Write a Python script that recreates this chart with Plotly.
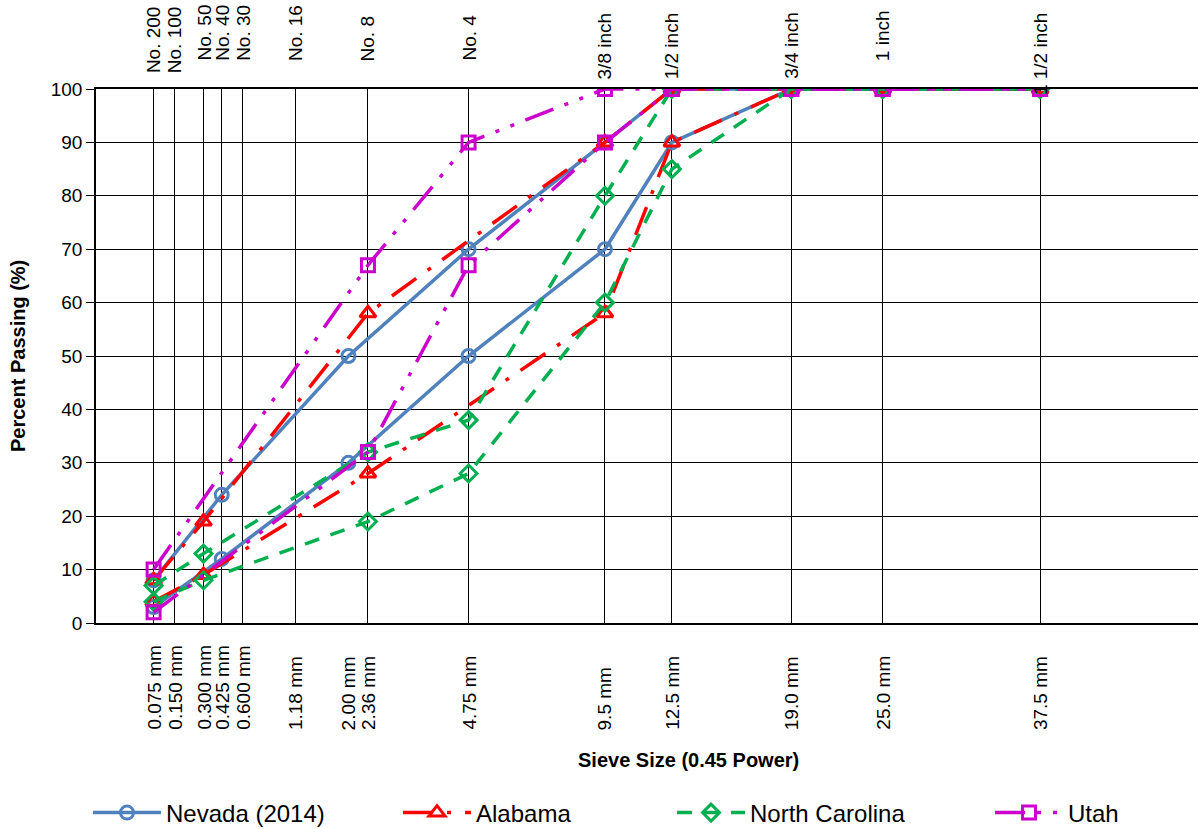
import plotly.graph_objects as go

# ---------------- data ----------------
sieve_mm = [0.075, 0.15, 0.3, 0.425, 0.6, 1.18, 2.0, 2.36, 4.75, 9.5, 12.5, 19.0, 25.0, 37.5]
mm_labels = ["0.075 mm", "0.150 mm", "0.300 mm", "0.425 mm", "0.600 mm", "1.18 mm", "2.00 mm",
             "2.36 mm", "4.75 mm", "9.5 mm", "12.5 mm", "19.0 mm", "25.0 mm", "37.5 mm"]
grid_mm = [0.075, 0.15, 0.3, 0.425, 0.6, 1.18, 2.36, 4.75, 9.5, 12.5, 19.0, 25.0, 37.5]
sieve_names = ["No. 200", "No. 100", "No. 50", "No. 40", "No. 30", "No. 16", "No. 8", "No. 4",
               "3/8 inch", "1/2 inch", "3/4 inch", "1 inch", "1 1/2 inch"]

nevada_mm = [0.075, 0.425, 2.0, 4.75, 9.5, 12.5, 19.0, 25.0, 37.5]
nevada_upper = [8, 24, 50, 70, 90, 100, 100, 100, 100]
nevada_lower = [3, 12, 30, 50, 70, 90, 100, 100, 100]

alabama_mm = [0.075, 0.3, 2.36, 9.5, 12.5, 19.0, 25.0, 37.5]
alabama_upper = [8, 19, 58, 90, 100, 100, 100, 100]
alabama_lower = [4, 9, 28, 58, 90, 100, 100, 100]

nc_mm = [0.075, 0.3, 2.36, 4.75, 9.5, 12.5, 19.0, 25.0, 37.5]
nc_upper = [7, 13, 32, 38, 80, 100, 100, 100, 100]
nc_lower = [4, 8, 19, 28, 60, 85, 100, 100, 100]

utah_mm = [0.075, 2.36, 4.75, 9.5, 12.5, 19.0, 25.0, 37.5]
utah_upper = [10, 67, 90, 100, 100, 100, 100, 100]
utah_lower = [2, 32, 67, 90, 100, 100, 100, 100]

POWER = 0.45


def px(v):
    return v ** POWER


# ---------------- styles ----------------
FONT = "Liberation Sans, Arial, sans-serif"
series = [
    ("Nevada (2014)", nevada_mm, nevada_upper, nevada_lower, "#4F81BD", "solid", "circle-open", 13, "legend", 168),
    ("Alabama", alabama_mm, alabama_upper, alabama_lower, "#FF0000", "30px,14px,4px,14px", "triangle-up-open", 14, "legend2", 478),
    ("North Carolina", nc_mm, nc_upper, nc_lower, "#00B050", "15px,12px", "diamond-open", 13, "legend3", 752),
    ("Utah", utah_mm, utah_upper, utah_lower, "#CC00CC", "30px,12px,4px,12px,4px,12px", "square-open", 13, "legend4", 1070),
]
LEG_ITEM_W = 68

# layout geometry (pixels)
L, R, T, B = 96, 0, 89, 206
W, H = 1198, 829
plot_h = H - T - B
plot_w = W - L - R
x_max = plot_w / 184.8


def py(pix):
    return (H - B - pix) / plot_h


def pxp(pix):
    return (pix - L) / plot_w


fig = go.Figure()
legends = {}
for name, xs, up, lo, color, dash, sym, size, leg, text_x in series:
    for i, ys in enumerate([up, lo]):
        fig.add_trace(go.Scatter(
            x=[px(v) for v in xs], y=ys, mode="lines+markers", name=name,
            legendgroup=name, showlegend=(i == 0), legend=leg,
            line=dict(color=color, width=3.5, dash=dash),
            marker=dict(symbol=sym, size=size, color=color, line=dict(width=3, color=color)),
        ))
    legends[leg] = dict(orientation="h", x=pxp(text_x - LEG_ITEM_W - 12), xanchor="left",
                        y=py(813), yanchor="middle", itemwidth=LEG_ITEM_W,
                        font=dict(family=FONT, size=24, color="black"),
                        bgcolor="rgba(0,0,0,0)")

annotations = []
# top sieve-name labels
top_bottom_px = [75, 75, 63, 63, 63, 63, 63, 63, 81, 81, 81, 63, 97]
for m, lab, bpx in zip(grid_mm, sieve_names, top_bottom_px):
    annotations.append(dict(x=px(m), xref="x", y=py(bpx), yref="paper", text=lab,
                            showarrow=False, textangle=-90, xanchor="center", yanchor="bottom",
                            font=dict(family=FONT, size=19, color="black")))
# bottom mm labels
for m, lab in zip(sieve_mm, mm_labels):
    annotations.append(dict(x=px(m), xref="x", y=py(732), yref="paper", text=lab,
                            showarrow=False, textangle=-90, xanchor="center", yanchor="bottom",
                            font=dict(family=FONT, size=19, color="black")))
# axis titles
annotations.append(dict(x=pxp(688), xref="paper", y=py(760), yref="paper",
                        text="<b>Sieve Size (0.45 Power)</b>", showarrow=False,
                        xanchor="center", yanchor="middle",
                        font=dict(family=FONT, size=20, color="black")))
annotations.append(dict(x=pxp(18), xref="paper", y=py(356), yref="paper",
                        text="<b>Percent Passing (%)</b>", showarrow=False, textangle=-90,
                        xanchor="center", yanchor="middle",
                        font=dict(family=FONT, size=20, color="black")))

fig.update_layout(
    width=W, height=H,
    margin=dict(l=L, r=R, t=T, b=B, autoexpand=False),
    paper_bgcolor="white", plot_bgcolor="white",
    font=dict(family=FONT, size=19, color="black"),
    showlegend=True,
    annotations=annotations,
    xaxis=dict(range=[0, x_max], tickvals=[px(v) for v in grid_mm], showticklabels=False,
               ticks="", showgrid=True, gridcolor="black", gridwidth=1,
               showline=True, linecolor="black", linewidth=1.5, mirror=True, zeroline=False),
    yaxis=dict(range=[0, 100], dtick=10, showgrid=True, gridcolor="black", gridwidth=1,
               ticks="outside", ticklen=8, tickcolor="black", tickwidth=1,
               showline=True, linecolor="black", linewidth=1.5, zeroline=False,
               tickfont=dict(family=FONT, size=19, color="black")),
    **legends,
)

fig.write_html("out.html", config={"displayModeBar": False},
               post_script="document.body.style.margin='0';document.body.style.overflow='hidden';")
